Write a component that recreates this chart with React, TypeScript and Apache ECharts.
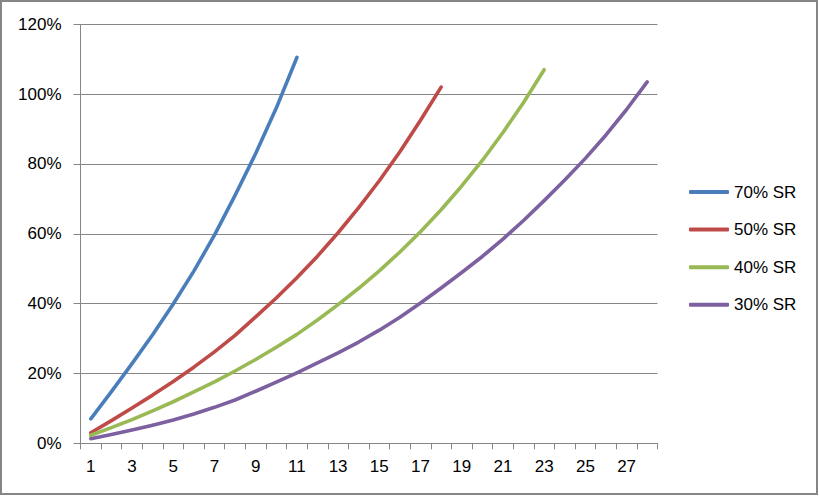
import React, { useEffect, useRef } from "react";
import * as echarts from "echarts";

const categories: string[] = Array.from({ length: 28 }, (_, i) => String(i + 1));

const seriesNames = ["70% SR", "50% SR", "40% SR", "30% SR"];

const sr70: number[] = [7.0, 14.8, 22.8, 31.1, 39.9, 49.3, 59.6, 71.0, 83.0, 96.0, 110.5];
const sr50: number[] = [3.0, 6.5, 10.1, 13.8, 17.7, 21.8, 26.2, 30.9, 36.2, 41.6, 47.4, 53.6, 60.3, 67.5, 75.2, 83.5, 92.5, 102.0];
const sr40: number[] = [2.3, 4.5, 6.8, 9.3, 11.9, 14.7, 17.6, 20.7, 24.0, 27.5, 31.2, 35.3, 39.7, 44.4, 49.4, 54.8, 60.6, 66.9, 73.7, 81.0, 89.0, 97.6, 107.0];
const sr30: number[] = [1.3, 2.5, 3.8, 5.2, 6.7, 8.4, 10.3, 12.4, 14.9, 17.5, 20.2, 23.0, 25.9, 29.0, 32.4, 36.1, 40.2, 44.5, 48.9, 53.5, 58.5, 63.8, 69.5, 75.4, 81.6, 88.3, 95.6, 103.5];

const colors = ["#4A7EBB", "#BE4B48", "#98B954", "#7D60A0"];

export default function App() {
  const ref = useRef<HTMLDivElement>(null);
  useEffect(() => {
    if (!ref.current) return;
    const chart = echarts.init(ref.current, undefined, { renderer: "svg" });
    const font = "'Liberation Sans', Arial, sans-serif";
    const datas = [sr70, sr50, sr40, sr30];
    chart.setOption({
      animation: false,
      backgroundColor: "#ffffff",
      color: colors,
      textStyle: { fontFamily: font },
      grid: { left: 80.5, right: 161.5, top: 24.3, bottom: 52.7, containLabel: false },
      legend: {
        orient: "vertical",
        left: 689,
        top: 182,
        padding: 0,
        icon: "roundRect",
        itemWidth: 40,
        itemHeight: 4,
        itemGap: 17.6,
        textStyle: { fontFamily: font, fontSize: 17, color: "#000", lineHeight: 20 },
        data: seriesNames,
      },
      xAxis: {
        type: "category",
        data: categories,
        boundaryGap: true,
        axisLine: { lineStyle: { color: "#868686", width: 1 } },
        axisTick: { show: true, interval: 0, length: 6, lineStyle: { color: "#868686" } },
        axisLabel: { interval: 1, margin: 15, fontSize: 17, color: "#000", fontFamily: font },
        splitLine: { show: false },
      },
      yAxis: {
        type: "value",
        min: 0,
        max: 120,
        interval: 20,
        axisLine: { show: true, lineStyle: { color: "#868686", width: 1 } },
        axisTick: { show: true, length: 7, lineStyle: { color: "#868686" } },
        axisLabel: { formatter: "{value}%", margin: 19, fontSize: 17, color: "#000", fontFamily: font },
        splitLine: { show: true, lineStyle: { color: "#868686", width: 1 } },
      },
      graphic: [
        {
          type: "rect",
          shape: { x: 1, y: 1, width: 816, height: 493 },
          style: { fill: "none", stroke: "#868686", lineWidth: 2 },
          silent: true,
          z: 100,
        },
      ],
      series: seriesNames.map((name, i) => ({
        name,
        type: "line",
        data: datas[i],
        symbol: "none",
        smooth: false,
        lineStyle: { width: 3.6, color: colors[i], cap: "round", join: "round" },
        itemStyle: { color: colors[i] },
      })),
    });
    return () => chart.dispose();
  }, []);
  return (
    <div
      ref={ref}
      style={{ position: "absolute", left: 0, top: 0, width: 819, height: 496 }}
    />
  );
}
